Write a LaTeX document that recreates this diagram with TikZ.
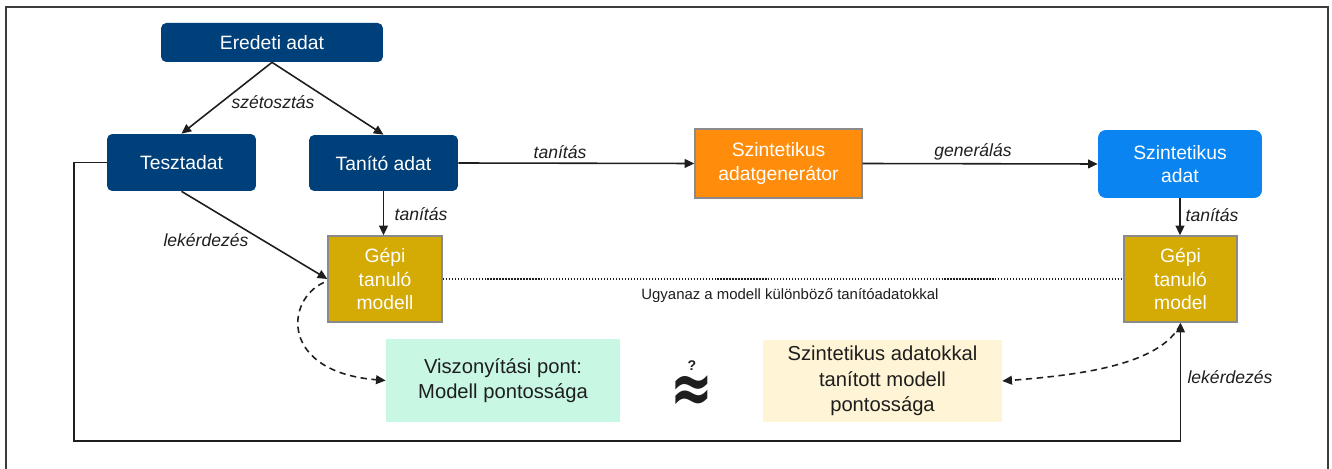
\documentclass[tikz,border=0pt]{standalone}
\usepackage{fontspec}
\setmainfont{Liberation Sans}
\newfontfamily\szdSymbols{DejaVu Sans}
\usepackage{graphicx}
\usepackage{xcolor}
\usepackage{tikz}
\usetikzlibrary{arrows.meta,positioning,calc}
\definecolor{szdInk}{HTML}{1E1E1E}
\definecolor{szdFrame}{HTML}{3C3C3C}
\definecolor{szdBorder}{HTML}{8A8A8A}
\definecolor{szdNavy}{HTML}{00407A}
\definecolor{szdSky}{HTML}{0A84F0}
\definecolor{szdOrange}{HTML}{FF8C0A}
\definecolor{szdGold}{HTML}{D4AA04}
\definecolor{szdMint}{HTML}{C8F8E3}
\definecolor{szdCream}{HTML}{FFF4D5}
\tikzset{
  % Common look: pixel grid of the source (x right, y down).
  szd/base/.style={
    font=\fontsize{11pt}{13.3pt}\selectfont,
    text=szdInk,
    line join=miter
  },
  szd/data/.style={
    fill=szdNavy,
    text=white,
    rounded corners=3pt,
    align=center,
    inner sep=1pt
  },
  szd/synth data/.style={
    fill=szdSky,
    text=white,
    rounded corners=4.5pt,
    align=center,
    inner sep=1pt
  },
  szd/generator/.style={
    draw=szdBorder,
    fill=szdOrange,
    text=white,
    line width=.8pt,
    align=center,
    inner sep=1pt
  },
  szd/model/.style={
    draw=szdBorder,
    fill=szdGold,
    text=white,
    line width=.8pt,
    align=center,
    inner sep=1pt
  },
  szd/result/.style={
    align=center,
    inner sep=1pt,
    font=\fontsize{11.5pt}{14.5pt}\selectfont
  },
  szd/edge label/.style={
    font=\itshape\fontsize{10pt}{12pt}\selectfont,
    text=szdInk,
    inner sep=1pt
  },
  szd/flow/.style={
    -{Triangle[length=5.5pt,width=5pt]},
    draw=szdInk,
    line width=.9pt
  },
  szd/dashed flow/.style={
    -{Triangle[length=5.5pt,width=5pt]},
    draw=szdInk,
    line width=.9pt,
    dash pattern=on 3.6pt off 2.6pt
  },
  szd/same model/.style={
    draw=szdInk,
    line width=.7pt,
    dash pattern=on .7pt off 1pt
  }
}
\begin{document}
\begin{tikzpicture}[szd/base,x=.02cm,y=-.02cm]
  \path[use as bounding box] (0,0) rectangle (1332,469);
  \draw[draw=szdFrame,line width=.9pt] (6,469)--(6,7)--(1328,7)--(1328,469);

  % data nodes
  \node[szd/data,minimum width=4.44cm,minimum height=.78cm] (eredeti) at (272,42.5) {Eredeti adat};
  \node[szd/data,minimum width=2.98cm,minimum height=1.14cm] (teszt) at (181.5,162.5) {Tesztadat};
  \node[szd/data,minimum width=2.98cm,minimum height=1.12cm] (tanito) at (383.5,163) {Tanító adat};
  \node[szd/generator,minimum width=3.34cm,minimum height=1.38cm] (generator) at (778.5,163.5)
    {Szintetikus\\adatgenerátor};
  \node[szd/synth data,minimum width=3.28cm,minimum height=1.36cm] (szintAdat) at (1180,164)
    {Szintetikus\\adat};

  % the same model, trained twice
  \node[szd/model,minimum width=2.28cm,minimum height=1.72cm] (gepiEredeti) at (385,279)
    {Gépi\\tanuló\\modell};
  \node[szd/model,minimum width=2.26cm,minimum height=1.72cm] (gepiSzint) at (1180.5,279)
    {Gépi\\tanuló\\model};

  % accuracies compared
  \node[szd/result,fill=szdMint,minimum width=4.68cm,minimum height=1.66cm] (viszony) at (503,380.5)
    {Viszonyítási pont:\\Modell pontossága};
  \node[szd/result,fill=szdCream,minimum width=4.78cm,minimum height=1.64cm] (szintPontos) at (882.5,381)
    {Szintetikus adatokkal\\tanított modell\\pontossága};
  \node[font=\szdSymbols\bfseries\fontsize{29pt}{31pt}\selectfont,inner sep=0pt] (kozel) at (692,389)
    {\raisebox{-6.8pt}[13.3pt][0pt]{\scalebox{1}[1.4]{≈}}};
  \node[font=\bfseries\fontsize{8pt}{9pt}\selectfont,inner sep=0pt,anchor=south] (kerdes)
    at ([yshift=3.5pt]kozel.north) {?};

  % connectors
  \draw[szd/flow] (eredeti.south) -- (teszt.north);
  \draw[szd/flow] (eredeti.south) -- (tanito.north);
  \draw[szd/flow] (tanito.east) -- (generator.west);
  \draw[szd/flow] (generator.east) -- (szintAdat.west);
  \draw[szd/flow] (tanito.south) -- (tanito.south |- gepiEredeti.north);
  \draw[szd/flow] (szintAdat.south) -- (szintAdat.south |- gepiSzint.north);
  \draw[szd/flow] (teszt.south) -- (gepiEredeti.west);
  \coordinate (hurok) at (74,441);
  \draw[szd/flow] (teszt.west) -| (hurok) -| (gepiSzint.south);
  \draw[szd/same model] (gepiEredeti.east) -- (gepiSzint.west);
  \draw[szd/dashed flow] ([xshift=-2pt,yshift=-2pt]gepiEredeti.west)
    .. controls (285,300) and (280,372) .. (viszony.west);
  \draw[szd/dashed flow] ([yshift=-1pt]gepiSzint.south)
    .. controls (1160,365) and (1080,375) .. (szintPontos.east);

  % edge labels
  \node[szd/edge label] (lSzeto) at (273,102) {szétosztás};
  \node[szd/edge label] (lTanitGen) at (560,152) {tanítás};
  \node[szd/edge label] (lGeneral) at (973,152) {generálás};
  \node[szd/edge label] (lTanitEred) at (421,214) {tanítás};
  \node[szd/edge label] (lTanitSzint) at (1212,215) {tanítás};
  \node[szd/edge label] (lLekerBal) at (206,240) {lekérdezés};
  \node[szd/edge label] (lLekerJobb) at (1230,377) {lekérdezés};
  \node[font=\fontsize{8.5pt}{10pt}\selectfont,inner sep=1pt] (lUgyanaz) at (790,296)
    {Ugyanaz a modell különböző tanítóadatokkal};
\end{tikzpicture}
\end{document}
